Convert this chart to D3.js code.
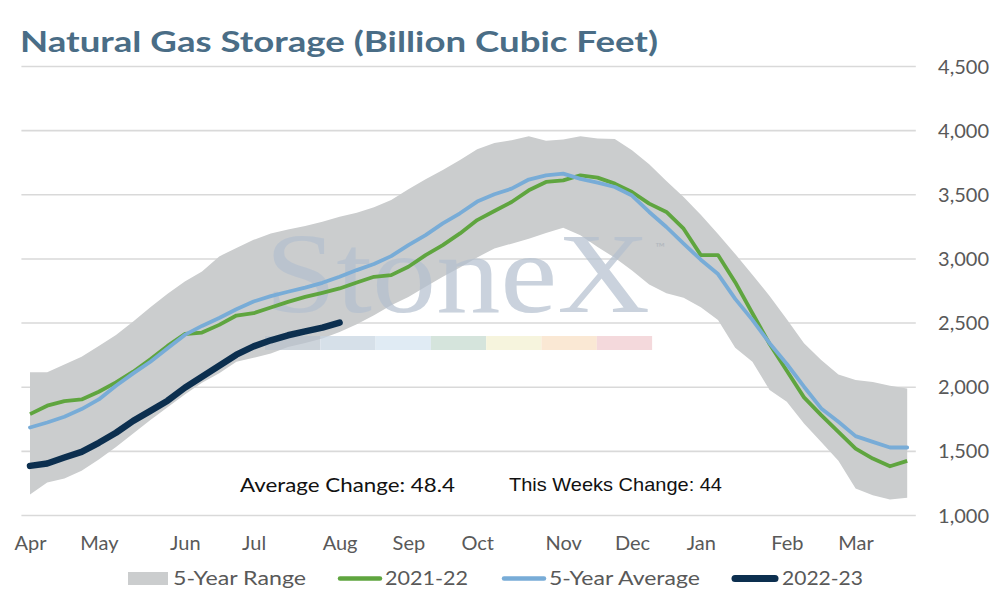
<!DOCTYPE html>
<html><head><meta charset="utf-8">
<script src="https://cdn.jsdelivr.net/npm/d3@7/dist/d3.min.js"></script>
<style>
body{margin:0;background:#fff;}
svg{display:block;font-family:Lato,"Open Sans",sans-serif;}
</style></head>
<body>
<svg id="chart" width="994" height="600"></svg>
<script>
// ---- data ----
const weekLabels = ["Apr","","","","May","","","","","Jun","","","","Jul","","","","","Aug","","","","Sep","","","","Oct","","","","","Nov","","","","Dec","","","","Jan","","","","","Feb","","","","Mar","","",""];
const rangeHigh = [2112,2112,2174,2234,2318,2404,2508,2620,2724,2820,2898,3016,3081,3145,3195,3226,3253,3286,3325,3357,3398,3456,3539,3617,3690,3768,3851,3900,3922,3953,3917,3927,3953,3935,3930,3844,3734,3604,3479,3340,3190,3035,2872,2708,2526,2339,2208,2096,2052,2036,2008,1987];
const rangeLow = [1159,1253,1284,1344,1432,1531,1635,1740,1839,1940,2031,2104,2195,2225,2258,2310,2341,2375,2427,2487,2557,2635,2700,2779,2857,2930,3008,3078,3115,3154,3198,3240,3180,3089,3005,2906,2797,2729,2693,2620,2520,2303,2195,1974,1883,1714,1570,1422,1206,1154,1120,1135];
const avg5yr = [1682,1721,1766,1826,1901,2008,2104,2195,2299,2404,2474,2536,2604,2664,2706,2740,2773,2810,2857,2909,2956,3018,3104,3182,3273,3352,3443,3500,3544,3615,3648,3661,3620,3591,3557,3490,3362,3245,3115,2990,2878,2685,2521,2339,2177,2000,1831,1727,1615,1570,1526,1526];
const y2021 = [1786,1852,1888,1901,1961,2034,2117,2214,2318,2411,2422,2482,2555,2573,2617,2661,2700,2732,2766,2812,2857,2870,2935,3026,3104,3195,3299,3370,3440,3531,3596,3609,3648,3630,3583,3518,3427,3362,3232,3026,3026,2815,2573,2333,2125,1917,1779,1648,1518,1440,1380,1422];
const y2022 = [1383,1401,1448,1492,1563,1641,1734,1812,1891,1992,2078,2164,2250,2314,2362,2401,2432,2461,2500];
const yTicks = [1000,1500,2000,2500,3000,3500,4000,4500];
const titleText = "Natural Gas Storage (Billion Cubic Feet)";
const avgChangeText = "Average Change: 48.4";
const weekChangeText = "This Weeks Change: 44";
const legendItems = [
  {name:"5-Year Range", type:"area"},
  {name:"2021-22", type:"line", key:"g"},
  {name:"5-Year Average", type:"line", key:"b"},
  {name:"2022-23", type:"line", key:"d"}
];

// ---- styles ----
const C = {band:"#cbcdce", g:"#5fa53f", b:"#78acd7", d:"#0c2f4f", grid:"#d9d9d9", axis:"#595959", title:"#4a6d86"};
const W = {g:3.8, b:3.8, d:6.5};

const svg = d3.select("#chart");
const idx = d3.range(weekLabels.length);
const x = d3.scalePoint().domain(idx).range([21.4, 915.8]).padding(0.5);
const y = d3.scaleLinear().domain([1000,4500]).range([515,66]);

// title
svg.append("text").attr("x",20).attr("y",52).text(titleText)
  .attr("fill",C.title).attr("font-size",28).attr("font-weight",700)
  .attr("textLength",638).attr("lengthAdjust","spacingAndGlyphs");

// gridlines
const grid = svg.append("g").attr("transform","translate(21.4,0)")
  .call(d3.axisRight(y).tickValues(yTicks).tickSize(894.4).tickFormat(""));
grid.select(".domain").remove();
grid.selectAll("line").attr("stroke",C.grid).attr("stroke-width",1.6);

// right axis labels
const ya = svg.append("g").attr("transform","translate(989,0)")
  .call(d3.axisRight(y).tickValues(yTicks).tickSize(0).tickFormat(d3.format(",")));
ya.select(".domain").remove();
ya.selectAll("text").attr("text-anchor","end").attr("x",0).attr("dy","0.35em")
  .attr("fill",C.axis).attr("font-size",20).style("font-family","Lato,sans-serif");

// x axis labels
const xa = svg.append("g").attr("transform","translate(0,515)")
  .call(d3.axisBottom(x).tickValues(idx.filter(i=>weekLabels[i]!=="")).tickSize(0).tickFormat(i=>weekLabels[i]));
xa.select(".domain").remove();
xa.selectAll("text").attr("y",35).attr("dy",0)
  .attr("fill",C.axis).attr("font-size",20).style("font-family","Lato,sans-serif");

// band
const area = d3.area().x(i=>x(i)).y0(i=>y(rangeLow[i])).y1(i=>y(rangeHigh[i]));
svg.append("path").datum(idx).attr("d",area).attr("fill",C.band);

// watermark
const wm = svg.append("g").attr("opacity",0.7);
wm.append("text").attr("x",265).attr("y",312).text("StoneX")
  .style("font-family","'Liberation Serif','DejaVu Serif',serif").attr("font-size",114)
  .attr("fill","#b4c0cf").attr("textLength",385).attr("lengthAdjust","spacingAndGlyphs");
wm.append("text").attr("x",655).attr("y",252).text("™").attr("font-size",13).attr("fill","#a9b0b8");
const stripeColors = ["#b9c2cd","#c6d3e1","#d3e3f0","#c4d9ce","#f3f0cf","#f8dfc2","#f0c9ce"];
stripeColors.forEach((c,k)=>{
  wm.append("rect").attr("x",265+k*55.3).attr("y",336).attr("width",55.3).attr("height",14).attr("fill",c);
});

// lines
const line = arr => d3.line().x((v,i)=>x(i)).y(v=>y(v))(arr);
svg.append("path").attr("d",line(y2021)).attr("fill","none").attr("stroke",C.g).attr("stroke-width",W.g).attr("stroke-linejoin","round");
svg.append("path").attr("d",line(avg5yr)).attr("fill","none").attr("stroke",C.b).attr("stroke-width",W.b).attr("stroke-linejoin","round").attr("stroke-linecap","round");
svg.append("path").attr("d",line(y2022)).attr("fill","none").attr("stroke",C.d).attr("stroke-width",W.d).attr("stroke-linejoin","round").attr("stroke-linecap","round");

// annotations
svg.append("text").attr("x",240).attr("y",492).text(avgChangeText).attr("font-size",18.5).attr("fill","#111")
  .attr("textLength",215).attr("lengthAdjust","spacingAndGlyphs");
svg.append("text").attr("x",509).attr("y",491).text(weekChangeText).attr("font-size",19).attr("fill","#111")
  .style("font-family","'Liberation Sans Narrow','Liberation Sans',sans-serif")
  .attr("textLength",213).attr("lengthAdjust","spacingAndGlyphs");

// legend
const lg = svg.append("g").attr("font-size",19.5).attr("fill",C.axis);
const lx = [128,338,502,733];
const tx = [173,385,549,782];
const tw = [133,83,151,81];
legendItems.forEach((it,k)=>{
  if(it.type==="area"){
    lg.append("rect").attr("x",lx[k]).attr("y",572).attr("width",40).attr("height",13).attr("fill",C.band);
  } else {
    lg.append("line").attr("x1",lx[k]+2).attr("x2",lx[k]+42).attr("y1",578.5).attr("y2",578.5)
      .attr("stroke",C[it.key]).attr("stroke-width",it.key==="d"?7:4.5).attr("stroke-linecap","round");
  }
  lg.append("text").attr("x",tx[k]).attr("y",585).text(it.name).attr("fill",C.axis)
    .attr("textLength",tw[k]).attr("lengthAdjust","spacingAndGlyphs");
});
</script>
</body></html>
